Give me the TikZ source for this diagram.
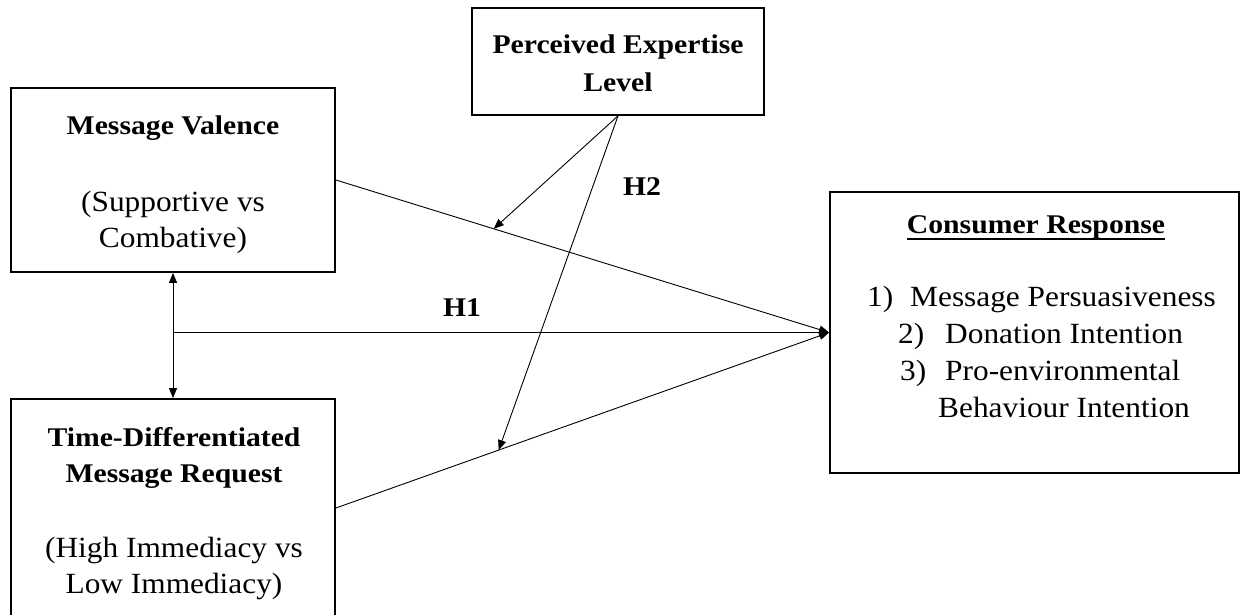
\documentclass[tikz,border=0pt]{standalone}
\usepackage{fontspec}
\setmainfont{Liberation Serif}
\usetikzlibrary{arrows.meta,calc}
\newcommand{\bsx}[1]{\scalebox{1.1}[1]{#1}}
\newcommand{\rsx}[1]{\scalebox{1.07}[1]{#1}}
\begin{document}
\begin{tikzpicture}[x=1pt,y=-1pt,
  box/.style={draw,line width=1.8pt,inner sep=0pt},
  bt/.style={anchor=base,inner sep=0pt,font=\fontsize{27}{31}\selectfont\bfseries},
  rt/.style={anchor=base,inner sep=0pt,font=\fontsize{29.3}{33}\selectfont},
  lt/.style={anchor=base west,inner sep=0pt,font=\fontsize{29.3}{33}\selectfont},
  conn/.style={line width=0.9pt},
  tip/.style={-{Triangle[length=10pt,width=8pt]}},
  dtip/.style={{Triangle[length=10pt,width=8pt]}-{Triangle[length=10pt,width=8pt]}}]
\useasboundingbox (0,0) rectangle (1241,615);
% boxes
\node[box,minimum width=324pt,minimum height=184pt] (mv) at (173,180) {};
\node[box,minimum width=324pt,minimum height=218pt] (td) at (173,508) {};
\node[box,minimum width=292pt,minimum height=107pt] (pe) at (618,61.5) {};
\node[box,minimum width=409pt,minimum height=281pt] (cr) at (1034.5,332.5) {};
% texts
\node[bt] (mv1) at (173,135) {\bsx{Message Valence}};
\node[rt] (mv2) at (173,211) {\rsx{(Supportive vs}};
\node[rt] (mv3) at (173,247) {\rsx{Combative)}};
\node[bt] (td1) at (174,446) {\bsx{Time-Differentiated}};
\node[bt] (td2) at (174,482) {\bsx{Message Request}};
\node[rt] (td3) at (174,557) {\rsx{(High Immediacy vs}};
\node[rt] (td4) at (174,593) {\rsx{Low Immediacy)}};
\node[bt] (pe1) at (618,54) {\bsx{Perceived Expertise}};
\node[bt] (pe2) at (618,92) {\bsx{Level}};
\node[bt] (cr1) at (1036,233) {\bsx{Consumer Response}};
\draw[line width=1.4pt] ($(cr1.base west)+(0,6)$) -- ($(cr1.base east)+(0,6)$);
\node[lt] (n1) at (867,306) {\rsx{1)}};
\node[lt] (i1) at (910,306) {\rsx{Message Persuasiveness}};
\node[lt] (n2) at (898,343) {\rsx{2)}};
\node[lt] (i2) at (945,343) {\rsx{Donation Intention}};
\node[lt] (n3) at (900,380) {\rsx{3)}};
\node[lt] (i3) at (945,380) {\rsx{Pro-environmental}};
\node[lt] (i4) at (938,417) {\rsx{Behaviour Intention}};
\node[bt] (h1) at (462,316) {\bsx{H1}};
\node[bt] (h2) at (642,195) {\bsx{H2}};
% connectors
\draw[conn,dtip] (mv.south) -- (td.north);
\coordinate (hj) at (mv.south |- cr.west);
\draw[conn,tip] (hj) -- (cr.west);
\draw[conn,tip] (mv.east) -- (cr.west);
\draw[conn,tip] (td.east) -- (cr.west);
\coordinate (m1) at ($(mv.east)!0.32!(cr.west)$);
\coordinate (m2) at ($(td.east)!0.33!(cr.west)$);
\draw[conn,tip] (pe.south) -- (m1);
\draw[conn,tip] (pe.south) -- (m2);
\end{tikzpicture}
\end{document}
